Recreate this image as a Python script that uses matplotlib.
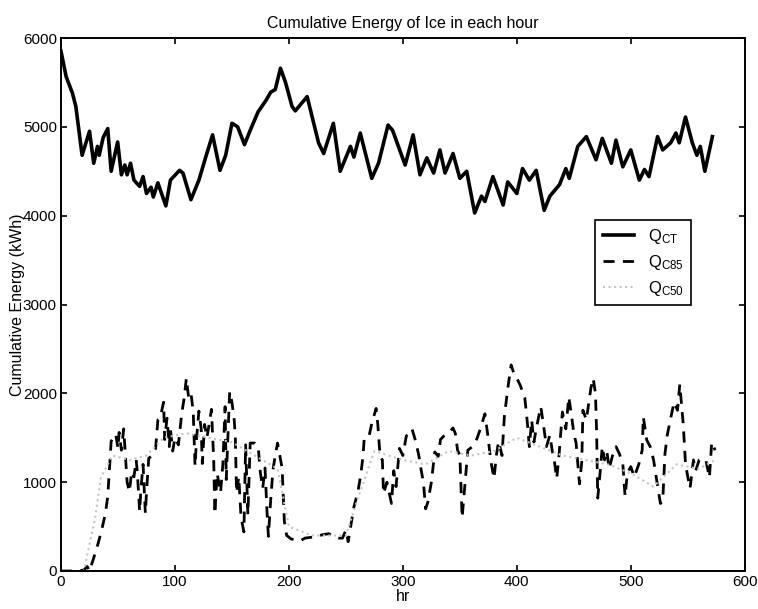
import matplotlib
matplotlib.use("Agg")
import matplotlib.pyplot as plt

# Q_CT (solid)
ct_hr = [0, 4.5, 10, 13, 18.5, 25, 28.7, 32, 33.5, 37, 41, 44, 49.7, 53, 56, 58, 61, 64,
         69, 72, 75, 79, 81, 85, 92, 96, 104, 107, 114, 121, 127, 133, 139.5, 144.5, 150,
         155, 161, 166, 173, 180, 184, 188, 192.6, 197, 202.7, 205.6, 216, 226, 230.5,
         239, 245, 254, 257, 262.6, 272.7, 278.6, 287, 291, 302, 309, 315, 321, 327,
         332.5, 337, 344, 350, 356, 363, 369, 372, 379, 388, 392, 400, 405, 411, 417,
         424, 429, 437.5, 443, 446, 453.5, 461, 469.5, 475, 483, 487, 493, 500, 507.5,
         512, 516, 523.5, 528, 535, 539.6, 542.5, 548, 554, 558, 561, 565, 571.6]
ct_val = [5850, 5565, 5380, 5230, 4680, 4950, 4590, 4780, 4680, 4880, 4980, 4500, 4830,
          4460, 4570, 4460, 4590, 4400, 4330, 4440, 4250, 4320, 4210, 4370, 4110, 4400,
          4510, 4480, 4180, 4400, 4660, 4910, 4510, 4680, 5040, 5000, 4800, 4960, 5170,
          5300, 5390, 5420, 5660, 5500, 5230, 5180, 5340, 4820, 4700, 5040, 4500, 4780,
          4660, 4930, 4420, 4590, 5020, 4960, 4570, 4910, 4460, 4650, 4480, 4740, 4480,
          4700, 4420, 4500, 4030, 4220, 4160, 4440, 4120, 4380, 4250, 4530, 4400, 4510,
          4060, 4220, 4350, 4530, 4420, 4780, 4890, 4630, 4870, 4590, 4850, 4550, 4740,
          4400, 4520, 4440, 4890, 4740, 4820, 4930, 4820, 5110, 4820, 4680, 4780, 4500,
          4890]

# Q_C85 (dashed)
c85_hr = [0, 10, 20, 23, 25, 29, 33, 36, 39, 41, 42, 43, 44, 46, 48, 50, 51, 53, 55, 57,
          58, 60, 62, 64, 66, 67, 69, 70, 72, 74, 75, 77, 80, 83, 85, 87, 90, 91, 93, 95,
          96, 98, 100, 103, 106, 108, 110, 112, 114, 116, 117.6, 119, 121, 123, 124, 126,
          128, 130, 132, 134, 135, 137, 140, 142, 144, 145, 148, 150, 152, 153, 154, 156,
          158, 160.5, 162, 164, 166, 170, 173, 175, 177, 179, 181, 182, 184, 186, 188, 190,
          192, 194, 196, 198, 202, 206, 210, 214, 220, 225, 230, 235, 240, 244, 247, 250,
          252, 255, 257, 260.5, 263, 265, 266, 270, 272.7, 276.5, 278, 280, 282, 283, 286,
          290, 292, 294, 297, 300, 303, 306, 308, 311, 314, 316, 318, 320, 322, 325, 328,
          331, 333, 336, 340, 344, 346, 348, 350, 352, 354, 357, 361, 365, 368, 372, 375,
          377, 380, 382, 384, 387, 389, 392, 395, 398, 400, 403, 407, 409, 411, 413, 415,
          417, 421, 423, 426, 429, 431, 433, 435, 437, 440, 443, 445.6, 448, 450, 452, 455,
          457, 458, 461, 465, 467, 469, 470, 471, 473, 475, 477, 479, 481, 484, 487, 490,
          493, 495, 497, 500, 503, 507, 510, 511, 514, 517, 520, 523, 526, 528, 530, 532,
          535, 538, 541, 543, 546, 548, 550, 552, 555, 557, 560, 563, 566, 569, 571, 574]
c85_val = [0, 0, 10, 50, 0, 160, 330, 480, 650, 840, 1040, 1250, 1460, 1500, 1540, 1380,
           1560, 1360, 1600, 1200, 1000, 890, 1120, 1060, 1250, 1100, 670, 900, 1200, 650,
           880, 1270, 1300, 1380, 1700, 1720, 1900, 1480, 1720, 1400, 1600, 1350, 1500,
           1420, 1780, 1940, 2170, 1950, 2000, 1800, 1180, 1500, 1800, 1600, 1210, 1650,
           1500, 1650, 1820, 1250, 640, 1100, 880, 1200, 1850, 1030, 2020, 1900, 1700,
           1490, 880, 1060, 600, 440, 1420, 630, 1440, 1440, 1400, 1100, 930, 1160, 610,
           390, 800, 1140, 1300, 1440, 1300, 1160, 560, 400, 360, 350, 340, 370, 380, 390,
           410, 420, 380, 370, 370, 460, 330, 560, 720, 890, 1080, 1290, 1480, 1500, 1660,
           1830, 1650, 1290, 1250, 870, 1000, 760, 1130, 950, 1380, 1300, 1520, 1560, 1600,
           1470, 1300, 1140, 1000, 700, 780, 1000, 1340, 1290, 1480, 1520, 1550, 1610, 1550,
           1360, 1300, 600, 900, 1360, 1400, 1490, 1600, 1770, 1480, 1250, 1040, 1300, 1460,
           1300, 1730, 2050, 2320, 2200, 2170, 2090, 1950, 1700, 1400, 1700, 1450, 1600,
           1850, 1680, 1400, 1530, 1360, 1230, 1040, 1300, 1790, 1600, 1960, 1750, 1550,
           1440, 980, 1230, 1810, 1700, 2060, 2170, 2000, 1570, 820, 1100, 1400, 1250, 1350,
           1150, 1300, 1400, 1320, 1210, 840, 1100, 1175, 1060, 1200, 1360, 1735, 1475,
           1400, 1250, 1000, 760, 780, 1320, 1530, 1720, 1900, 1810, 2100, 1660, 1210, 1060,
           930, 1250, 1130, 1250, 1270, 1240, 1050, 1450, 1360]

# Q_C50 (faint dotted) - barely visible in the scan, rough estimate
c50_hr = [0, 20, 30, 35, 45, 60, 75, 90, 110, 130, 150, 170, 190, 200, 220, 250, 260, 275,
          300, 320, 340, 360, 380, 400, 420, 440, 460, 480, 500, 520, 540, 560, 574]
c50_val = [0, 0, 600, 1050, 1300, 1250, 1300, 1500, 1550, 1500, 1450, 1300, 1150, 500, 400,
           400, 800, 1350, 1250, 1200, 1350, 1300, 1350, 1500, 1400, 1300, 1250, 1200, 1100,
           950, 1200, 1150, 1250]

plt.rcParams['font.family'] = ['Liberation Sans', 'DejaVu Sans']
plt.rcParams['mathtext.default'] = 'regular'

fig = plt.figure(figsize=(7.58, 6.09), dpi=100)
ax = fig.add_axes([0.0805, 0.0624, 0.902, 0.8752])

ax.plot(ct_hr, ct_val, color='black', lw=2.6, label='$Q_{CT}$')
ax.plot(c85_hr, c85_val, color='black', lw=2.0, ls=(0, (4, 3)), label='$Q_{C85}$')
ax.plot(c50_hr, c50_val, color='#c4c4c4', lw=1.5, ls=':', label='$Q_{C50}$')

ax.set_xlim(0, 600)
ax.set_ylim(0, 6000)
ax.set_xticks([0, 100, 200, 300, 400, 500, 600])
ax.set_yticks([0, 1000, 2000, 3000, 4000, 5000, 6000])
ax.tick_params(direction='in', length=4, width=1.2, top=True, right=True,
               labelsize=11, pad=3)
for s in ax.spines.values():
    s.set_linewidth(1.4)

ax.set_title('Cumulative Energy of Ice in each hour', fontsize=11.5, pad=7)
ax.set_xlabel('hr', fontsize=11.5, labelpad=0)
ax.set_ylabel('Cumulative Energy (kWh)', fontsize=11.5)
ax.yaxis.set_label_coords(-0.052, 0.5)

leg = ax.legend(loc='upper left', bbox_to_anchor=(0.781, 0.659), fontsize=12,
                fancybox=False, framealpha=1, edgecolor='black', handlelength=1.9,
                borderpad=0.45, labelspacing=0.4, borderaxespad=0)
leg.get_frame().set_linewidth(1.2)

fig.savefig('out.png', dpi=100)
